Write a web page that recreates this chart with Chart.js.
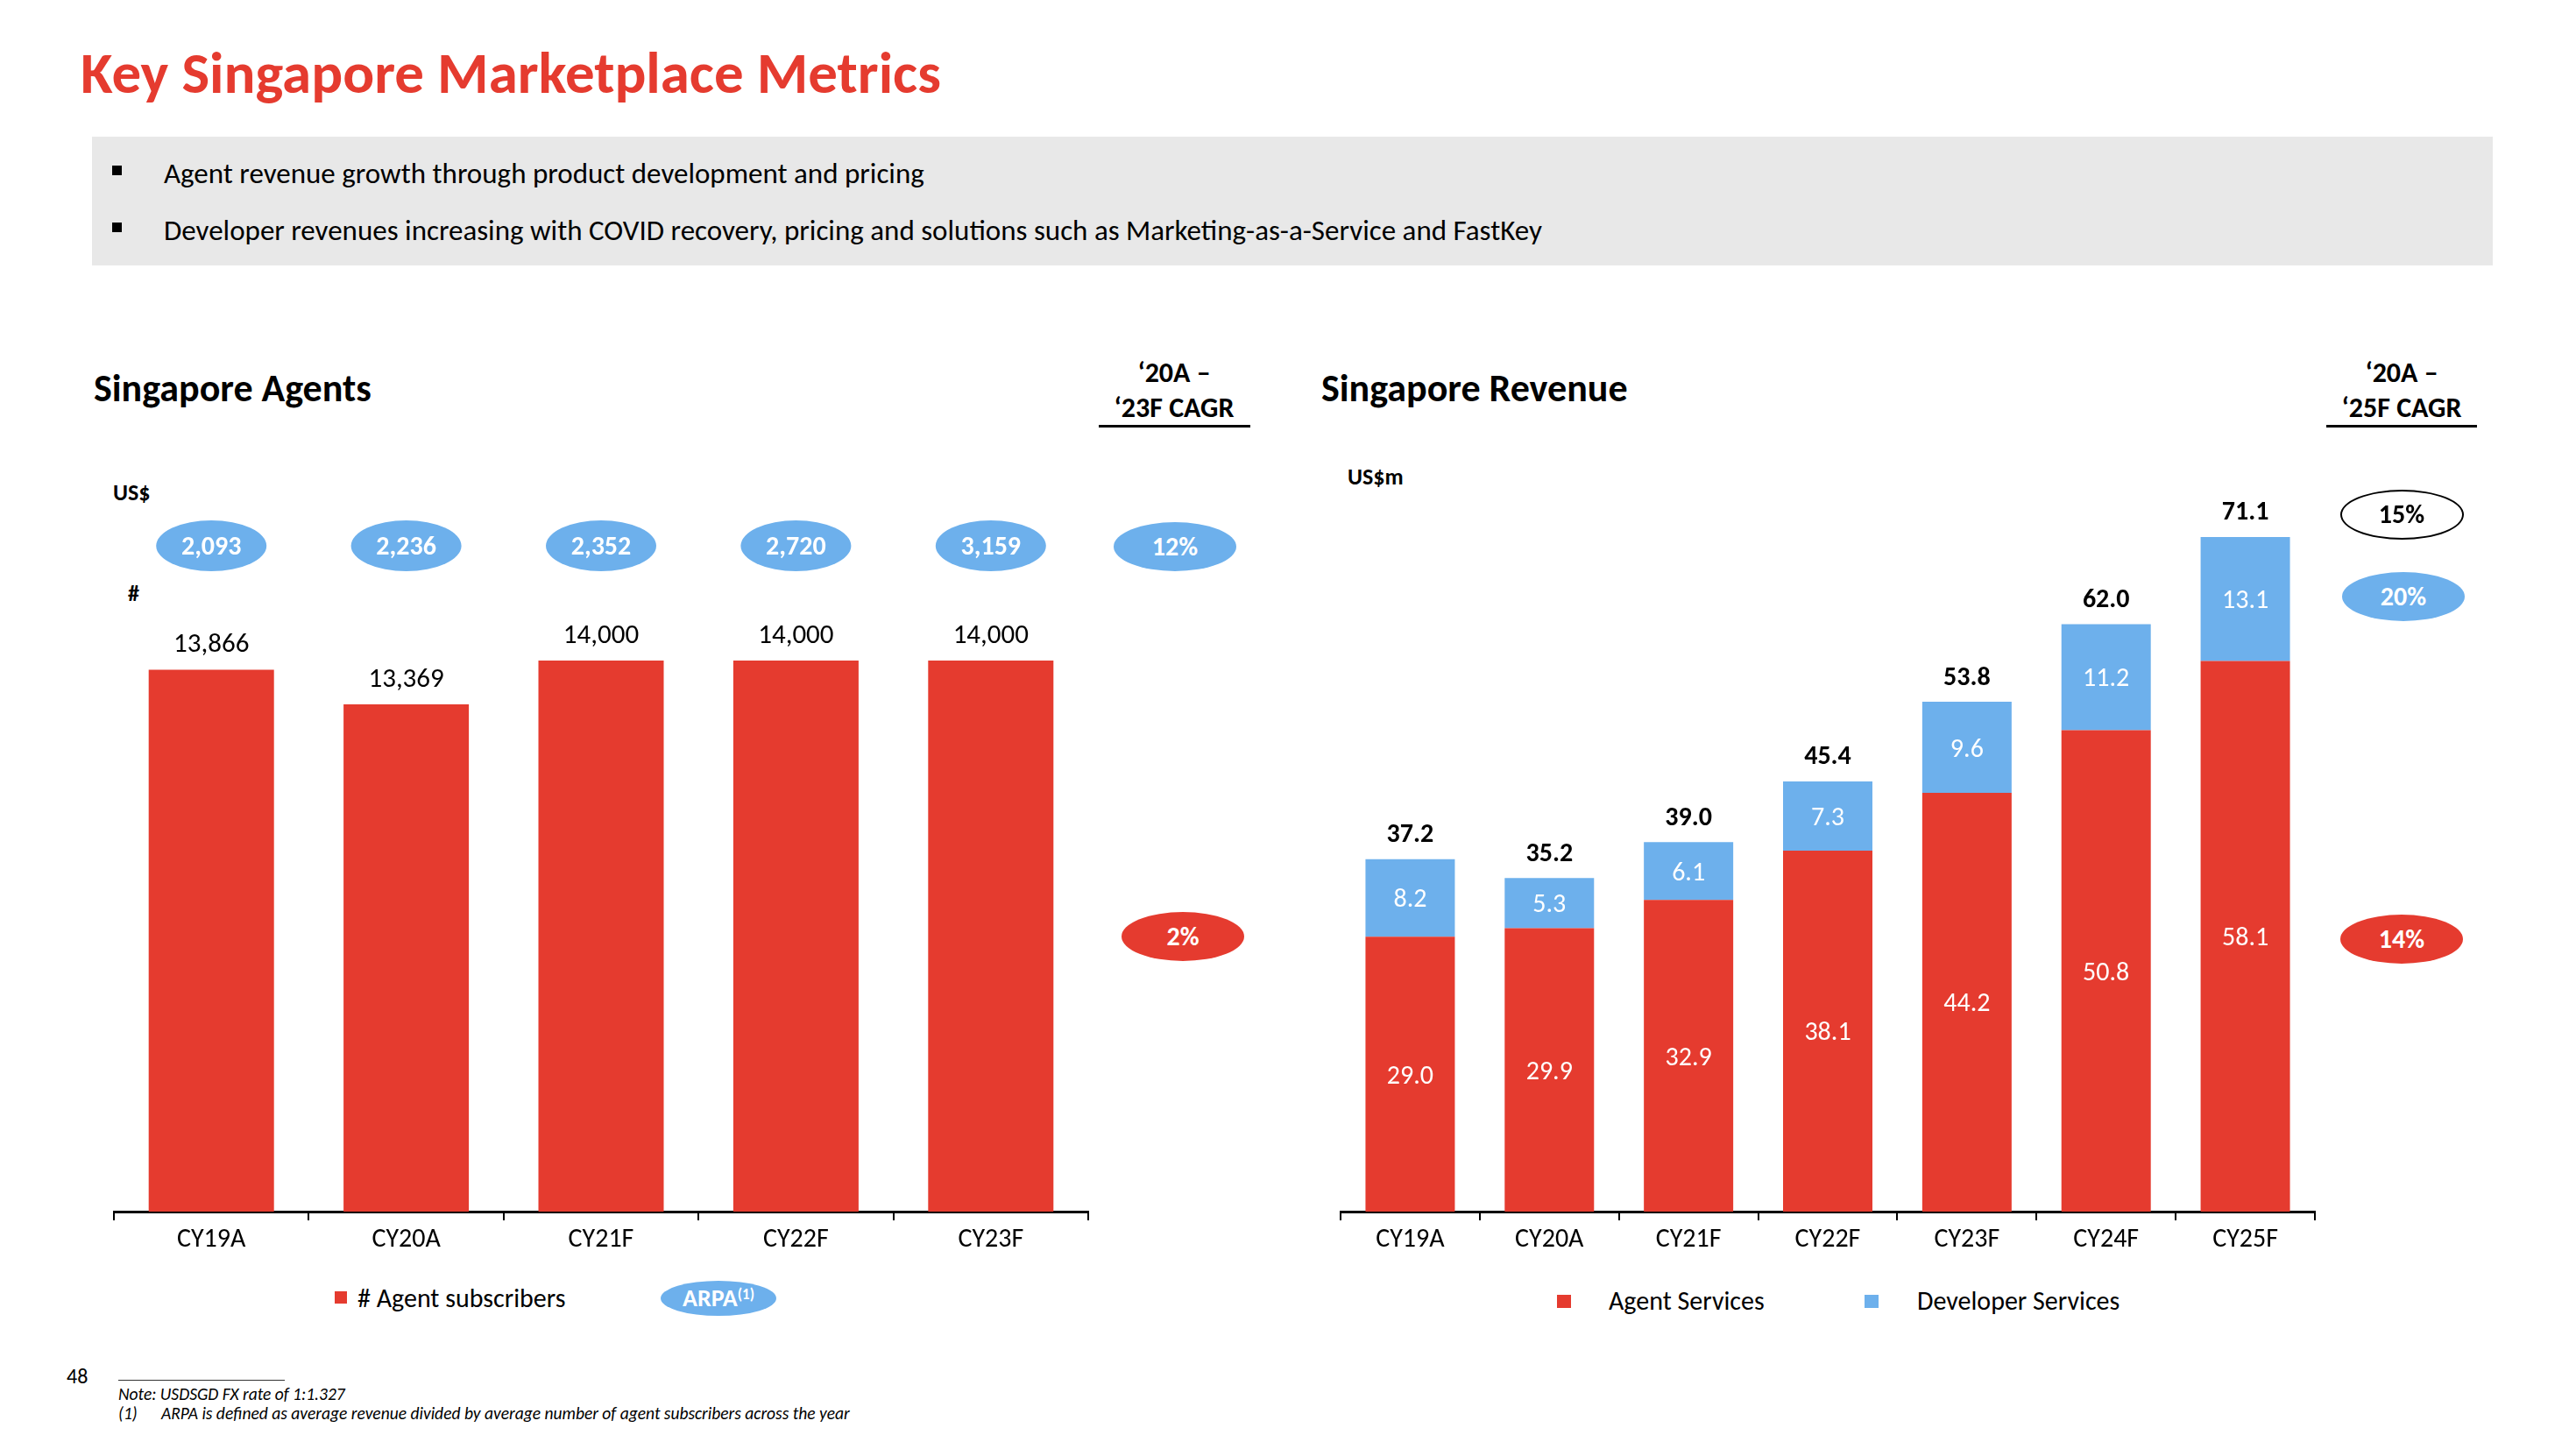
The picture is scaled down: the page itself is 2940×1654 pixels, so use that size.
<!DOCTYPE html>
<html><head><meta charset="utf-8">
<script src="https://cdn.jsdelivr.net/npm/chart.js@4.4.1/dist/chart.umd.min.js"></script>
<style>
body{margin:0;background:#fff;}
#page{position:relative;width:2940px;height:1654px;overflow:hidden;font-family:Carlito,Lato,sans-serif;color:#000;background:#fff;}
.abs{position:absolute;white-space:nowrap;line-height:1;}
.b{font-weight:bold;}
canvas{position:absolute;top:0;}
.ell{position:absolute;border-radius:50%;display:flex;align-items:center;justify-content:center;font-weight:bold;color:#fff;box-sizing:border-box;line-height:1;}
</style></head><body><div id="page">
<div class="abs b" style="left:92px;top:50px;font-size:67px;color:#E53B2F;">Key Singapore Marketplace Metrics</div>
<div class="abs" style="left:105px;top:156px;width:2740px;height:147px;background:#E8E8E8;"></div>
<div class="abs" style="left:128px;top:189px;width:11px;height:11px;background:#000;"></div>
<div class="abs" style="left:128px;top:254px;width:11px;height:11px;background:#000;"></div>
<div class="abs" style="left:187px;top:182px;font-size:33px;">Agent revenue growth through product development and pricing</div>
<div class="abs" style="left:187px;top:247px;font-size:33px;">Developer revenues increasing with COVID recovery, pricing and solutions such as Marketing-as-a-Service and FastKey</div>

<div class="abs b" style="left:107px;top:421px;font-size:44px;">Singapore Agents</div>
<div class="abs b" style="left:1508px;top:421px;font-size:44px;">Singapore Revenue</div>
<div class="abs b" style="left:1240px;width:200px;text-align:center;top:410px;font-size:32px;">‘20A –</div>
<div class="abs b" style="left:1240px;width:200px;text-align:center;top:450px;font-size:32px;">‘23F CAGR</div>
<div class="abs" style="left:1254px;top:485px;width:173px;height:3px;background:#000;"></div>
<div class="abs b" style="left:2641px;width:200px;text-align:center;top:410px;font-size:32px;">‘20A –</div>
<div class="abs b" style="left:2641px;width:200px;text-align:center;top:450px;font-size:32px;">‘25F CAGR</div>
<div class="abs" style="left:2655px;top:485px;width:172px;height:3px;background:#000;"></div>
<div class="abs b" style="left:129px;top:549px;font-size:26px;">US$</div>
<div class="abs b" style="left:146px;top:664px;font-size:26px;">#</div>
<div class="abs b" style="left:1538px;top:531px;font-size:26px;">US$m</div>

<canvas id="agents" width="1470" height="1460" style="left:0;"></canvas>
<canvas id="revenue" width="1470" height="1460" style="left:1470px;"></canvas>

<div id="cagr"></div>

<div class="abs" style="left:382px;top:1474px;width:14px;height:14px;background:#E53B2F;"></div>
<div class="abs" style="left:408px;top:1467px;font-size:30px;"># Agent subscribers</div>
<div class="ell" style="left:754px;top:1462px;width:132px;height:40px;background:#6DB0EC;font-size:28px;">ARPA<sup style="font-size:17px;position:relative;top:-5px;">(1)</sup></div>
<div class="abs" style="left:1777px;top:1478px;width:16px;height:15px;background:#E53B2F;"></div>
<div class="abs" style="left:1836px;top:1470px;font-size:30px;">Agent Services</div>
<div class="abs" style="left:2128px;top:1478px;width:16px;height:15px;background:#6DB0EC;"></div>
<div class="abs" style="left:2188px;top:1470px;font-size:30px;">Developer Services</div>

<div class="abs" style="left:76px;top:1559px;font-size:24px;">48</div>
<div class="abs" style="left:135px;top:1575px;width:190px;height:1px;background:#333;"></div>
<div class="abs" style="left:135px;top:1582px;font-size:19.5px;font-style:italic;">Note: USDSGD FX rate of 1:1.327</div>
<div class="abs" style="left:135px;top:1604px;font-size:19.5px;font-style:italic;">(1)</div>
<div class="abs" style="left:184px;top:1604px;font-size:19.5px;font-style:italic;">ARPA is defined as average revenue divided by average number of agent subscribers across the year</div>
</div>
<script>
// ---- data ----
const agentYears = ['CY19A','CY20A','CY21F','CY22F','CY23F'];
const agentSubscribers = [13866, 13369, 14000, 14000, 14000];
const arpa = [2093, 2236, 2352, 2720, 3159];
const agentCagr = ['12%', '2%'];

const revenueYears = ['CY19A','CY20A','CY21F','CY22F','CY23F','CY24F','CY25F'];
const agentServices = [29.0, 29.9, 32.9, 38.1, 44.2, 50.8, 58.1];
const developerServices = [8.2, 5.3, 6.1, 7.3, 9.6, 11.2, 13.1];
const revenueTotals = [37.2, 35.2, 39.0, 45.4, 53.8, 62.0, 71.1];
const revenueCagr = ['15%', '20%', '14%'];

const RED = '#E53B2F', BLUE = '#6DB0EC';
const FONT = 'Carlito, Lato, sans-serif';

// CAGR bubbles (layout)
function ellipse(cx, cy, w, h, bg, border, color, text){
  const d = document.createElement('div');
  d.className = 'ell';
  d.style.cssText = `left:${cx-w/2}px;top:${cy-h/2}px;width:${w}px;height:${h}px;background:${bg};border:${border};color:${color};font-size:30px;`;
  d.textContent = text;
  document.getElementById('cagr').appendChild(d);
}
ellipse(1341, 624, 140, 56, BLUE, 'none', '#fff', agentCagr[0]);
ellipse(1350, 1069, 140, 56, RED, 'none', '#fff', agentCagr[1]);
ellipse(2741, 587, 141, 57, '#fff', '2px solid #000', '#000', revenueCagr[0]);
ellipse(2743, 681, 140, 56, BLUE, 'none', '#fff', revenueCagr[1]);
ellipse(2741, 1072, 140, 56, RED, 'none', '#fff', revenueCagr[2]);

Chart.defaults.font.family = FONT;
Chart.defaults.color = '#000';

function xAxis(){
  return {
    offset: true,
    grid: {display: true, drawOnChartArea: false, drawTicks: true, tickLength: 10, offset: true, color: '#000', lineWidth: 2},
    border: {display: true, color: '#000', width: 3},
    ticks: {font: {size: 30, family: FONT}, color: '#000', padding: 4, maxRotation: 0, autoSkip: false},
    afterFit(scale){ scale.height = 77; }
  };
}

const agentLabels = {
  id: 'agentLabels',
  afterDatasetsDraw(chart){
    const ctx = chart.ctx;
    const meta = chart.getDatasetMeta(0);
    const xs = chart.scales.x;
    ctx.save();
    ctx.textAlign = 'center'; ctx.textBaseline = 'middle';
    ctx.font = `31px ${FONT}`; ctx.fillStyle = '#000';
    meta.data.forEach((bar, i) => {
      ctx.fillText(agentSubscribers[i].toLocaleString('en-US'), bar.x, bar.y - 28);
    });
    // ARPA bubbles
    arpa.forEach((v, i) => {
      const x = xs.getPixelForValue(i);
      ctx.beginPath();
      ctx.ellipse(x, 623, 63, 29, 0, 0, Math.PI*2);
      ctx.fillStyle = BLUE; ctx.fill();
      ctx.fillStyle = '#fff'; ctx.font = `bold 30px ${FONT}`;
      ctx.fillText(v.toLocaleString('en-US'), x, 625);
    });
    ctx.restore();
  }
};

new Chart(document.getElementById('agents'), {
  type: 'bar',
  data: {labels: agentYears, datasets: [{label: '# Agent subscribers', data: agentSubscribers, backgroundColor: RED,
    categoryPercentage: 1, barPercentage: 0.643}]},
  options: {
    responsive: false, animation: false, devicePixelRatio: 1,
    layout: {padding: {left: 130, right: 228, top: 500, bottom: 0}},
    plugins: {legend: {display: false}, tooltip: {enabled: false}},
    scales: {
      x: xAxis(),
      y: {display: false, min: 6060, max: 17206}
    }
  },
  plugins: [agentLabels]
});

const revenueLabels = {
  id: 'revenueLabels',
  afterDatasetsDraw(chart){
    const ctx = chart.ctx;
    ctx.save();
    ctx.textAlign = 'center'; ctx.textBaseline = 'middle';
    const m0 = chart.getDatasetMeta(0), m1 = chart.getDatasetMeta(1);
    ctx.font = `30px ${FONT}`; ctx.fillStyle = '#fff';
    m0.data.forEach((bar, i) => {
      ctx.fillText(agentServices[i].toFixed(1), bar.x, (bar.y + bar.base)/2 + 3);
    });
    m1.data.forEach((bar, i) => {
      ctx.fillText(developerServices[i].toFixed(1), bar.x, (bar.y + bar.base)/2 + 3);
    });
    ctx.font = `bold 30px ${FONT}`; ctx.fillStyle = '#000';
    m1.data.forEach((bar, i) => {
      ctx.fillText(revenueTotals[i].toFixed(1), bar.x, bar.y - 27);
    });
    ctx.restore();
  }
};

new Chart(document.getElementById('revenue'), {
  type: 'bar',
  data: {labels: revenueYears, datasets: [
    {label: 'Agent Services', data: agentServices, backgroundColor: RED, categoryPercentage: 1, barPercentage: 0.642},
    {label: 'Developer Services', data: developerServices, backgroundColor: BLUE, categoryPercentage: 1, barPercentage: 0.642}
  ]},
  options: {
    responsive: false, animation: false, devicePixelRatio: 1,
    layout: {padding: {left: 60, right: 298, top: 500, bottom: 0}},
    plugins: {legend: {display: false}, tooltip: {enabled: false}},
    scales: {
      x: Object.assign(xAxis(), {stacked: true}),
      y: {display: false, stacked: true, min: 0, max: 81.64}
    }
  },
  plugins: [revenueLabels]
});
</script>
</body></html>
